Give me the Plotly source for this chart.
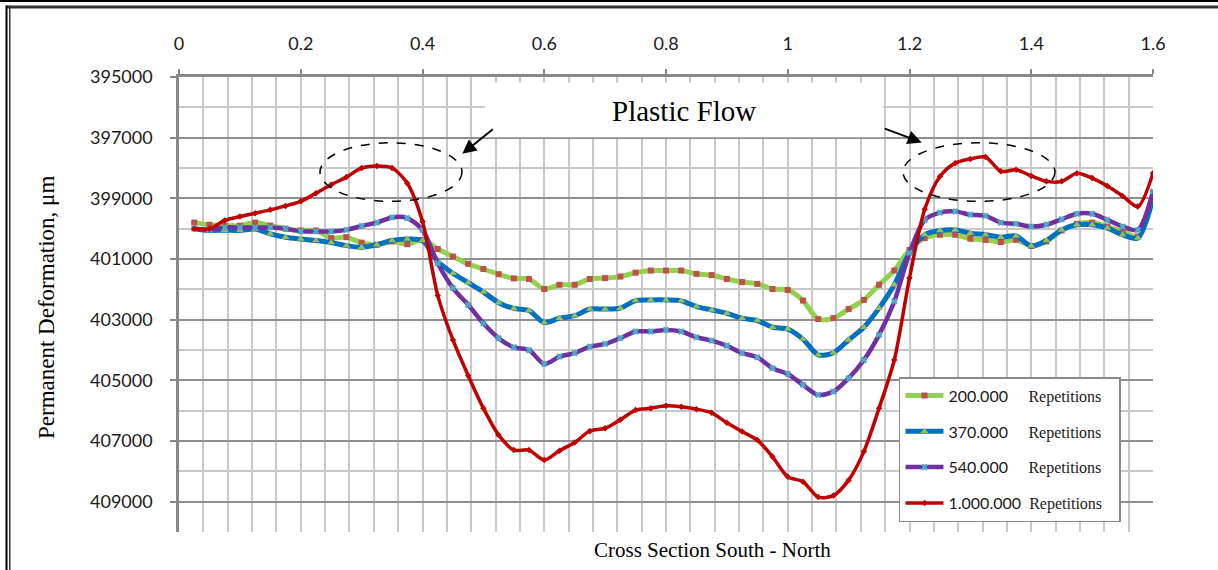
import plotly.graph_objects as go

# ---------------- data ----------------
x_pos = [0.025, 0.05, 0.075, 0.1, 0.125, 0.15, 0.175, 0.2, 0.225, 0.25, 0.275, 0.3, 0.325, 0.35,
         0.375, 0.4, 0.425, 0.45, 0.475, 0.5, 0.525, 0.55, 0.575, 0.6, 0.625, 0.65, 0.675, 0.7,
         0.725, 0.75, 0.775, 0.8, 0.825, 0.85, 0.875, 0.9, 0.925, 0.95, 0.975, 1.0, 1.025, 1.05,
         1.075, 1.1, 1.125, 1.15, 1.175, 1.2, 1.225, 1.25, 1.275, 1.3, 1.325, 1.35, 1.375, 1.4,
         1.425, 1.45, 1.475, 1.5, 1.525, 1.55, 1.575, 1.6]

rep_200k = [399800, 399870, 399900, 399900, 399800, 399900, 400000, 400060, 400060, 400310, 400280,
            400460, 400530, 400420, 400510, 400370, 400670, 400920, 401160, 401330, 401500, 401640,
            401660, 401990, 401850, 401850, 401660, 401630, 401580, 401450, 401380, 401380, 401380,
            401490, 401530, 401660, 401760, 401820, 401990, 402020, 402370, 402980, 402950, 402650,
            402350, 401850, 401380, 400700, 400310, 400200, 400200, 400330, 400370, 400440, 400370,
            400570, 400420, 400060, 399840, 399800, 399930, 400090, 400260, 398810]

rep_370k = [400000, 400060, 400050, 400060, 400010, 400170, 400280, 400340, 400390, 400460, 400560,
            400610, 400530, 400390, 400340, 400390, 401080, 401470, 401780, 402090, 402440, 402630,
            402700, 403100, 402950, 402870, 402650, 402650, 402620, 402370, 402350, 402350, 402380,
            402570, 402680, 402790, 402950, 403030, 403250, 403310, 403640, 404160, 404090, 403670,
            403250, 402620, 401850, 400800, 400200, 400060, 400040, 400150, 400200, 400280, 400240,
            400570, 400390, 400040, 399870, 399870, 399980, 400200, 400310, 398990]

rep_540k = [400000, 400040, 399960, 399960, 399960, 399960, 400000, 400090, 400090, 400090, 400040,
            399910, 399800, 399630, 399650, 400040, 401140, 401960, 402510, 403120, 403610, 403910,
            404000, 404460, 404220, 404100, 403890, 403800, 403610, 403390, 403390, 403340, 403390,
            403580, 403690, 403860, 404100, 404240, 404600, 404790, 405150, 405480, 405370, 404930,
            404330, 403500, 402400, 400800, 399710, 399470, 399430, 399540, 399580, 399800, 399840,
            399930, 399870, 399690, 399510, 399510, 399710, 399930, 400040, 398770]

rep_1m = [400000, 400000, 399730, 399600, 399490, 399380, 399250, 399100, 398830, 398550, 398300,
          398000, 397930, 398000, 398500, 399760, 402200, 403670, 404840, 405920, 406800, 407300,
          407300, 407630, 407320, 407050, 406670, 406580, 406300, 405980, 405920, 405840, 405870,
          405950, 406070, 406400, 406690, 406970, 407520, 408180, 408340, 408850, 408800, 408290,
          407350, 405920, 404330, 401630, 399360, 398280, 397840, 397700, 397640, 398110, 398060,
          398260, 398440, 398440, 398170, 398330, 398590, 398920, 399270, 398170]

series_labels = ["200.000", "370.000", "540.000", "1.000.000"]
label_gaps = ["&nbsp;&nbsp;&nbsp;&nbsp;&nbsp;", "&nbsp;&nbsp;&nbsp;&nbsp;&nbsp;",
              "&nbsp;&nbsp;&nbsp;&nbsp;&nbsp;", "&nbsp;&nbsp;"]
suffix = "Repetitions"

x_ticks = [0, 0.2, 0.4, 0.6, 0.8, 1, 1.2, 1.4, 1.6]
y_ticks = [395000, 397000, 399000, 401000, 403000, 405000, 407000, 409000]

SERIF = "Liberation Serif, Times New Roman, serif"
SANS = "Lato, Carlito, Calibri, sans-serif"

styles = [
    dict(line=dict(color="#92D050", width=5), marker=dict(symbol="square", size=6, color="#C0504D")),
    dict(line=dict(color="#0070C0", width=5), marker=dict(symbol="triangle-up", size=7, color="#9BBB59")),
    dict(line=dict(color="#7030A0", width=4.5), marker=dict(symbol="x", size=6, color="#4BACC6")),
    dict(line=dict(color="#C00000", width=3.5), marker=dict(symbol="diamond", size=5, color="#C00000")),
]

fig = go.Figure()
for lab, gap, ys, st in zip(series_labels, label_gaps, [rep_200k, rep_370k, rep_540k, rep_1m], styles):
    fig.add_trace(go.Scatter(
        x=x_pos, y=ys, mode="lines+markers",
        name=(f"{lab}{gap}<span style='font-family:{SERIF}; font-size:16px'>{suffix}</span>"
              "&nbsp;&nbsp;&nbsp;"),
        legendgroup=lab,
        line=dict(shape="spline", smoothing=0.8, **st["line"]),
        marker=st["marker"],
    ))

fig.update_layout(
    width=1218, height=570,
    margin=dict(l=179, r=65, t=77, b=38),
    paper_bgcolor="white", plot_bgcolor="white",
    font=dict(family=SANS, color="#1a1a1a"),
    showlegend=True,
    legend=dict(
        x=0.7392, y=0.3404, xanchor="left", yanchor="top",
        bgcolor="white", bordercolor="#8a8a8a", borderwidth=1.5,
        font=dict(family=SANS, size=16, color="#1a1a1a"),
        tracegroupgap=12, itemwidth=38,
    ),
    xaxis=dict(
        side="top", range=[0, 1.6], tickvals=x_ticks,
        ticks="outside", ticklen=5, tickwidth=1.5, tickcolor="#888888",
        showline=True, linecolor="#888888", linewidth=2.5, mirror=False,
        showgrid=True, gridcolor="#c8c8c8", gridwidth=1.5,
        minor=dict(dtick=0.04, tick0=0, showgrid=True, gridcolor="#c8c8c8", gridwidth=1.5),
        tickfont=dict(family=SANS, size=18, color="#1a1a1a"),
        ticklabelstandoff=12, zeroline=False,
    ),
    yaxis=dict(
        range=[410000, 395000], tickvals=y_ticks, tickformat="d",
        ticks="outside", ticklen=6, tickwidth=1.5, tickcolor="#888888",
        showline=True, linecolor="#888888", linewidth=2.5,
        showgrid=True, gridcolor="#8f8f8f", gridwidth=1.5,
        minor=dict(dtick=1000, tick0=395000, showgrid=True, gridcolor="#c8c8c8", gridwidth=1.5),
        tickfont=dict(family=SANS, size=18, color="#1a1a1a"),
        ticklabelstandoff=14, zeroline=False,
    ),
)

# white box behind the "Plastic Flow" label (hides the grid there)
fig.add_shape(type="rect", xref="x", yref="y", x0=0.5027, x1=1.1565, y0=395190, y1=396985,
              fillcolor="white", line=dict(width=0), layer="between")

# dashed ellipses marking plastic flow regions
for ex0, ex1 in [(0.2316, 0.4649), (1.1893, 1.439)]:
    fig.add_shape(type="circle", xref="x", yref="y", x0=ex0, x1=ex1, y0=397170, y1=399100,
                  line=dict(color="black", width=1.5, dash="dash"), layer="above")

fig.add_annotation(x=0.830, y=396110, xref="x", yref="y", text="Plastic Flow", showarrow=False,
                   font=dict(family=SERIF, size=29, color="black"))
for hx, hy, tx, ty in [(0.4654, 397531, 0.518, 396683), (1.2200, 397158, 1.1570, 396683)]:
    fig.add_annotation(x=hx, y=hy, xref="x", yref="y", ax=tx, ay=ty, axref="x", ayref="y",
                       text="", showarrow=True, arrowhead=2, arrowsize=1.4, arrowwidth=2,
                       arrowcolor="black")

# axis titles
fig.add_annotation(xref="paper", yref="paper", x=(46 - 179) / 974, y=1 - (308 - 77.3) / 454.4,
                   text="Permanent Deformation, μm", textangle=-90, showarrow=False,
                   xanchor="center", yanchor="middle",
                   font=dict(family=SERIF, size=23, color="black"))
fig.add_annotation(xref="paper", yref="paper", x=(712 - 179) / 974, y=1 - (550 - 77.3) / 454.4,
                   text="Cross Section South - North", showarrow=False,
                   xanchor="center", yanchor="middle",
                   font=dict(family=SERIF, size=21, color="black"))

# page frame (double border at top and left)
def px(xp):
    return (xp - 179) / 974

def py(yp):
    return 1 - (yp - 77.3) / 454.4

fig.add_shape(type="rect", xref="paper", yref="paper", x0=px(0), x1=px(1218), y0=py(2.5), y1=py(0),
              fillcolor="black", line=dict(width=0), layer="above")
fig.add_shape(type="rect", xref="paper", yref="paper", x0=px(6), x1=px(1218), y0=py(9), y1=py(6),
              fillcolor="#333333", line=dict(width=0), layer="above")
fig.add_shape(type="rect", xref="paper", yref="paper", x0=px(5.5), x1=px(7.5), y0=py(570), y1=py(6),
              fillcolor="black", line=dict(width=0), layer="above")
fig.add_shape(type="rect", xref="paper", yref="paper", x0=px(9), x1=px(10.5), y0=py(570), y1=py(6),
              fillcolor="#333333", line=dict(width=0), layer="above")

fig.write_html("out.html")
